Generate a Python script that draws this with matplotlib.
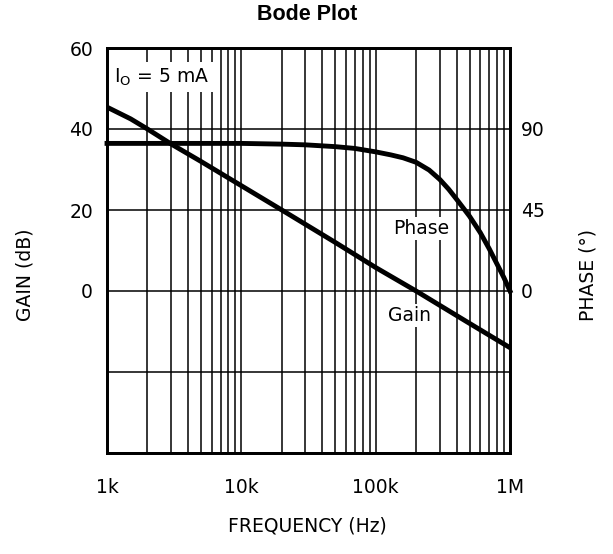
import matplotlib
matplotlib.use("Agg")
import matplotlib.pyplot as plt
import numpy as np
from matplotlib.ticker import LogLocator, NullFormatter

plt.rcParams['font.family'] = ['DejaVu Sans']

# gain curve (dB) vs frequency (Hz)
gain_freq = [1e3, 1.5e3, 2e3, 3e3, 5e3, 1e4, 2e4, 5e4, 1e5, 2e5, 5e5, 1e6]
gain_db = [45.4, 42.5, 40.0, 36.3, 32.0, 26.0, 20.0, 12.0, 5.8, 0.0, -8.0, -14.0]

# phase curve (degrees) vs frequency (Hz)
phase_freq = [1e3, 1e4, 2e4, 3e4, 5e4, 7e4, 1e5, 1.3e5, 1.6e5, 2e5, 2.5e5, 3e5,
              3.5e5, 4e5, 4.5e5, 5e5, 6e5, 7e5, 8e5, 9e5, 1e6]
phase_deg = [82, 82, 81.6, 81.2, 80.2, 79.2, 77.3, 75.6, 74, 71.5, 67.2, 62,
             56.5, 51, 46, 41.5, 32.5, 23.5, 15, 7.5, 0]

gain_ticks = [0, 20, 40, 60]
phase_ticks = [0, 45, 90]
freq_ticks = [1e3, 1e4, 1e5, 1e6]
freq_labels = ["1k", "10k", "100k", "1M"]

fig = plt.figure(figsize=(6.13, 5.54), dpi=100)
ax = fig.add_axes([107/613, 101/554, 403/613, 405/554])

ax.set_xscale('log')
ax.set_xlim(1e3, 1e6)
ax.set_ylim(-40, 60)
ax.xaxis.set_minor_locator(LogLocator(base=10, subs=np.arange(2, 10)))
ax.xaxis.set_minor_formatter(NullFormatter())
ax.set_xticks(freq_ticks)
ax.set_xticklabels(freq_labels)
ax.set_yticks([-40, -20] + gain_ticks)
ax.set_yticklabels(["", ""] + [str(t) for t in gain_ticks])
ax.grid(which='both', color='black', lw=1.1)
ax.tick_params(axis='x', which='both', length=0, labelsize=13.5, pad=18)
ax.tick_params(axis='y', which='both', length=0, labelsize=13.5, pad=10)
for s in ax.spines.values():
    s.set_linewidth(2)

ax.plot(gain_freq, gain_db, color='black', lw=3.5, zorder=5)

ax2 = ax.twinx()
ax2.set_ylim(-90, 135)
ax2.set_yticks(phase_ticks)
ax2.tick_params(length=0, labelsize=13.5, pad=8)
ax2.plot(phase_freq, phase_deg, color='black', lw=3.5, clip_on=False)
for s in ax2.spines.values():
    s.set_linewidth(2)

box = dict(facecolor='white', edgecolor='none', pad=1.5)
ax.text(1.12e3, 55.5, r"I$_\mathregular{O}$ = 5 mA", fontsize=13.5, va='top', ha='left',
        bbox=dict(facecolor='white', edgecolor='none', pad=3), zorder=4)
ax.text(2.2e5, 15.4, "Phase", fontsize=13.5, ha='center', va='center', bbox=box, zorder=4)
ax.text(1.78e5, -6.0, "Gain", fontsize=13.5, ha='center', va='center', bbox=box, zorder=4)

fig.text(307/613, 1 - 15/554, "Bode Plot", fontsize=15.5, fontweight='bold',
         family='Liberation Sans', ha='center', va='center')
fig.text(25/613, 0.5 + 2/554, "GAIN (dB)", fontsize=13.5, rotation=90, ha='center', va='center')
fig.text(588/613, 0.5 + 2/554, "PHASE (\u00b0)", fontsize=13.5, rotation=90, ha='center', va='center')
fig.text(307/613, 1 - 526/554, "FREQUENCY (Hz)", fontsize=13.5, ha='center', va='center')

plt.savefig("out.png", dpi=100)
